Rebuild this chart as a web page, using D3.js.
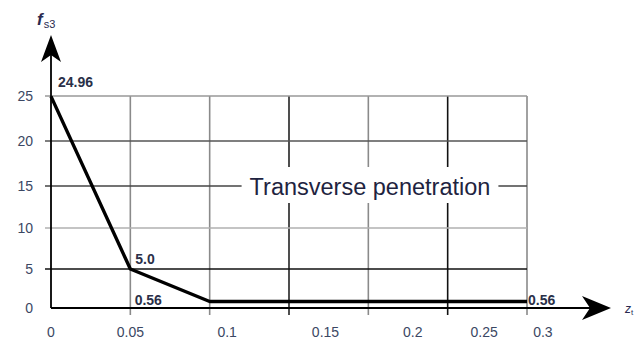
<!DOCTYPE html>
<html><head><meta charset="utf-8">
<script src="https://cdn.jsdelivr.net/npm/d3@7"></script>
<style>body{margin:0;background:#fff}svg{display:block}text{font-family:"Liberation Sans",Arial,sans-serif}</style>
</head><body><svg id="c" width="638" height="344"></svg>
<script>
// ---- data ----
const zt = [0, 0.05, 0.1, 0.3];
const fs3 = [24.96, 5.0, 0.56, 0.56];
const pointLabels = ["24.96", "5.0", "0.56", "0.56"];
const xGrid = [0.05, 0.1, 0.15, 0.2, 0.25, 0.3];
const yGrid = [5, 10, 15, 20, 25];
const xTickLabels = ["0", "0.05", "0.1", "0.15", "0.2", "0.25", "0.3"];
const xTickLabelAt = [0, 0.05, 0.111, 0.173, 0.228, 0.273, 0.31]; // where the original printed them
const yTickLabels = ["0", "5", "10", "15", "20", "25"];
const yTickValues = [0, 5, 10, 15, 20, 25];
const seriesName = "Transverse penetration";

// ---- scales ----
const svg = d3.select("#c");
const x = d3.scaleLinear().domain([0, 0.3]).range([51, 527]);
const y = d3.scaleLinear().domain([0, 0.56, 5, 10, 15, 20, 25]).range([308, 301.5, 269, 228, 186, 141, 96]);

const textCol = "#3b4763";
const xGridCol = {0.05:"#8a8a8a",0.1:"#8a8a8a",0.15:"#222",0.2:"#8a8a8a",0.25:"#111",0.3:"#8a8a8a"};
const yGridCol = {5:"#111",10:"#b0b0b0",15:"#444",20:"#555",25:"#999"};

const g = svg.append("g");
// vertical grid lines
g.selectAll(".vg").data(xGrid).join("line")
  .attr("x1", d => x(d)).attr("x2", d => x(d))
  .attr("y1", y(25)).attr("y2", y(0) + 7)
  .attr("stroke", d => xGridCol[d]).attr("stroke-width", 1.6);
// horizontal grid lines
g.selectAll(".hg").data(yGrid).join("line")
  .attr("x1", x(0) - 6).attr("x2", x(0.3))
  .attr("y1", d => y(d)).attr("y2", d => y(d))
  .attr("stroke", d => yGridCol[d]).attr("stroke-width", 1.6);

// series name with white box over grid
const lab = g.append("text").attr("x", 370).attr("y", y(15) + 1)
  .attr("text-anchor", "middle").attr("dominant-baseline", "central")
  .attr("font-size", 23.5).attr("fill", "#1e2340").text(seriesName);
const bb = lab.node().getBBox();
g.insert("rect", "text").attr("x", bb.x - 8).attr("y", y(15) - 19)
  .attr("width", bb.width + 16).attr("height", 36).attr("fill", "#fff");

// axes
g.append("line").attr("x1", x(0)).attr("x2", 600).attr("y1", y(0)).attr("y2", y(0))
  .attr("stroke", "#000").attr("stroke-width", 1.8);
g.append("line").attr("x1", x(0)).attr("x2", x(0)).attr("y1", y(0)).attr("y2", 50)
  .attr("stroke", "#000").attr("stroke-width", 1.8);
// arrowheads
const ax = x(0), ay = y(0);
g.append("path").attr("d", `M${ax},35 L${ax+10},62 L${ax},55 L${ax-10},62 Z`).attr("fill", "#000");
g.append("path").attr("d", `M611,${ay} L582,${ay-12} L590,${ay} L582,${ay+12} Z`).attr("fill", "#000");

// series line
g.append("path").datum(zt.map((d, i) => [d, fs3[i]]))
  .attr("d", d3.line().x(d => x(d[0])).y(d => y(d[1])))
  .attr("fill", "none").attr("stroke", "#000").attr("stroke-width", 3.4).attr("stroke-linejoin", "round");

// point labels
const plOff = [[7, -9], [5, -5], [-75, 3], [1, 3]];
g.selectAll(".pl").data(pointLabels).join("text")
  .attr("x", (d, i) => x(zt[i]) + plOff[i][0]).attr("y", (d, i) => y(fs3[i]) + plOff[i][1])
  .attr("font-size", 14).attr("font-weight", "bold").attr("fill", "#2a3048").text(d => d);

// tick labels
g.selectAll(".xt").data(xTickLabels).join("text")
  .attr("x", (d, i) => x(xTickLabelAt[i])).attr("y", 337)
  .attr("text-anchor", "middle").attr("font-size", 14).attr("fill", textCol).text(d => d);
g.selectAll(".yt").data(yTickLabels).join("text")
  .attr("x", 33).attr("y", (d, i) => y(yTickValues[i]))
  .attr("text-anchor", "end").attr("dominant-baseline", "central")
  .attr("font-size", 14).attr("fill", textCol).text(d => d);

// axis titles
const ft = g.append("text").attr("x", 37).attr("y", 25).attr("fill", "#2a2a50");
ft.append("tspan").attr("font-style", "italic").attr("font-weight", "bold").attr("font-size", 17).text("f");
ft.append("tspan").attr("font-size", 11).attr("dy", 3).attr("dx", 1).text("s3");
const zl = g.append("text").attr("x", 625).attr("y", 313).attr("fill", "#2a2a50");
zl.append("tspan").attr("font-style", "italic").attr("font-size", 12).text("z");
zl.append("tspan").attr("font-size", 8).attr("dy", 2).text("t");
</script></body></html>
